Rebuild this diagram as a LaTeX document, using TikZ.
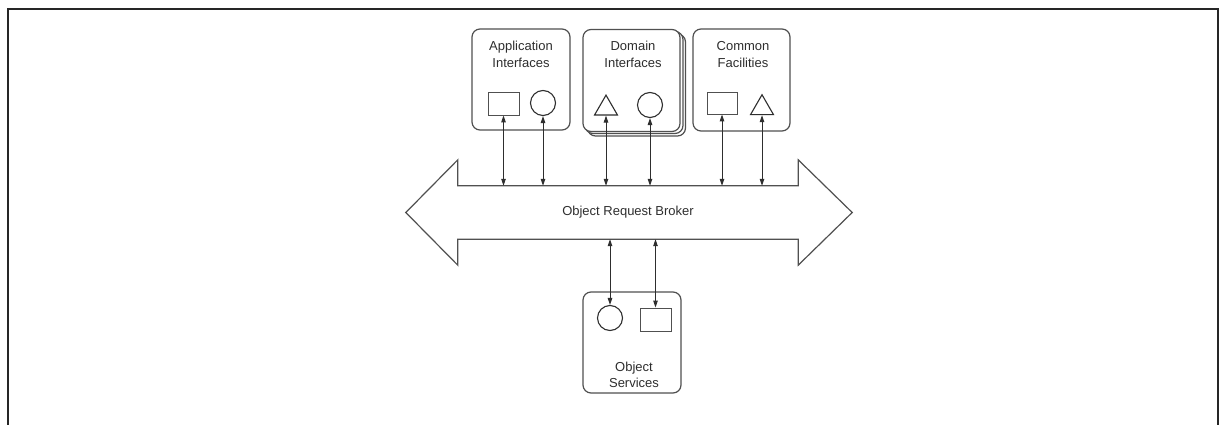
\documentclass[tikz,border=0pt]{standalone}
\usepackage{fontspec}
\setmainfont{Liberation Sans}
\usetikzlibrary{arrows.meta,shapes.geometric,calc}
\definecolor{ink}{HTML}{2E2E2E}
\definecolor{rim}{HTML}{505050}
\definecolor{frame}{HTML}{262626}
\begin{document}
\begin{tikzpicture}[x=1pt,y=-1pt,
  panel/.style={draw=rim,line width=1.2pt,rounded corners=8pt,fill=white,
    minimum width=98pt,minimum height=101pt,inner sep=0pt},
  heading/.style={font=\fontsize{13}{16.5}\selectfont,text=ink,align=center,inner sep=0pt},
  sq/.style={draw=rim,line width=0.9pt,minimum width=31pt,minimum height=23pt,inner sep=0pt},
  rnd/.style={draw=ink,line width=1.1pt,circle,minimum size=25pt,inner sep=0pt},
  tri/.style={draw=ink,line width=1.1pt,regular polygon,regular polygon sides=3,
    minimum size=26.5pt,inner sep=0pt},
  link/.style={draw=ink,line width=1pt,
    {Triangle[length=7pt,width=4.5pt]}-{Triangle[length=7pt,width=4.5pt]}},
]
\useasboundingbox (0,0) rectangle (1220,425);

% page frame, open at the bottom
\draw[frame,line width=2.5pt] (8,425) -- (8,9) -- (1218,9) -- (1218,425);

% object request broker: a double-headed block arrow
\node[minimum width=340pt,minimum height=53pt,inner sep=0pt,
      font=\fontsize{13}{16.5}\selectfont,text=ink] (orb) at (628,212.5) {Object Request Broker};
\draw[rim,line width=1.2pt,line join=miter]
  (orb.north west) -- (orb.north east) -- ++(0,-26)
  -- ($(orb.east)+(54,0)$) -- ($(orb.south east)+(0,26)$)
  -- (orb.south east) -- (orb.south west) -- ++(0,26)
  -- ($(orb.west)+(-52,0)$) -- ($(orb.north west)+(0,-26)$) -- cycle;

% application interfaces
\node[panel] (app) at (521,79.5) {};
\node[heading] (apptitle) at (521,54.5) {Application\\Interfaces};
\node[sq] (appsq) at (503.5,103.5) {};
\node[rnd] (appci) at (543,103) {};

% domain interfaces (stacked)
\node[panel,minimum height=102pt] (domback) at (636.5,85) {};
\node[panel,minimum height=102pt] (dommid) at (634,82.5) {};
\node[panel,minimum height=102pt,minimum width=97pt] (dom) at (631.5,80.5) {};
\node[heading] (domtitle) at (633,54.5) {Domain\\Interfaces};
\node[tri] (domtri) at (606,108.4) {};
\node[rnd] (domci) at (650,105) {};

% common facilities
\node[panel,minimum height=102pt,minimum width=97pt] (com) at (741.5,80) {};
\node[heading] (comtitle) at (743,54.5) {Common\\Facilities};
\node[sq,minimum width=30pt,minimum height=22pt] (comsq) at (722,103) {};
\node[tri] (comtri) at (762,108) {};

% object services
\node[panel] (svc) at (632,342.5) {};
\node[heading] (svctitle) at (634,375) {Object\\Services};
\node[rnd] (svcci) at (610,318) {};
\node[sq] (svcsq) at (655.5,319.5) {};

% connectors to the broker
\foreach \s in {appsq,appci,domtri,domci,comsq,comtri}
  \draw[link] (\s.south) -- (\s.south |- orb.north);
\foreach \s in {svcci,svcsq}
  \draw[link] (\s.north) -- (\s.north |- orb.south);
\end{tikzpicture}
\end{document}
